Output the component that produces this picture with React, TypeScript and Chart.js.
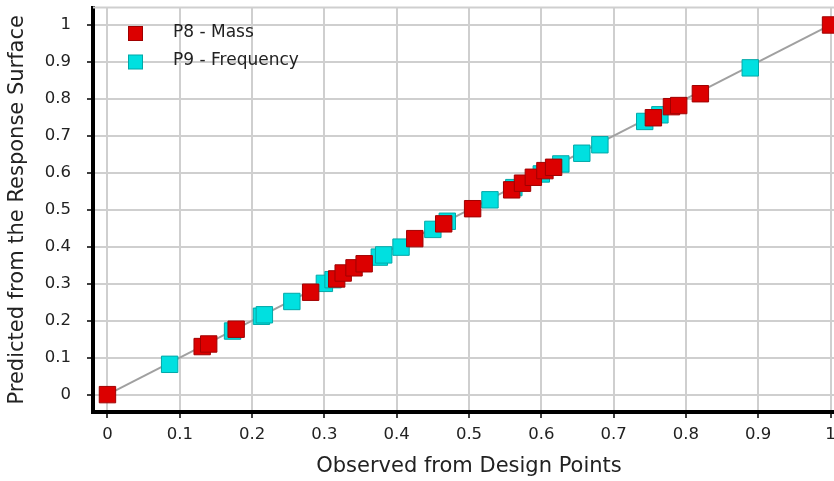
import React, { useEffect, useRef } from 'react';
import { Chart, registerables } from 'chart.js';

Chart.register(...registerables);

const seriesNames = ['P8 - Mass', 'P9 - Frequency'];
const xTitle = 'Observed from Design Points';
const yTitle = 'Predicted from the Response Surface';

const massX = [0, 0.131, 0.14, 0.178, 0.281, 0.317, 0.326, 0.341, 0.355, 0.425, 0.465, 0.505, 0.559, 0.574, 0.589, 0.605, 0.617, 0.755, 0.78, 0.79, 0.82, 1];
const massY = [0, 0.13, 0.137, 0.177, 0.277, 0.313, 0.329, 0.343, 0.354, 0.422, 0.462, 0.503, 0.554, 0.572, 0.588, 0.606, 0.615, 0.749, 0.779, 0.782, 0.814, 1];

const freqX = [0.086, 0.173, 0.213, 0.217, 0.255, 0.3, 0.312, 0.376, 0.382, 0.406, 0.45, 0.47, 0.529, 0.562, 0.6, 0.627, 0.656, 0.681, 0.743, 0.764, 0.889];
const freqY = [0.082, 0.172, 0.212, 0.216, 0.252, 0.301, 0.311, 0.372, 0.378, 0.399, 0.447, 0.469, 0.527, 0.56, 0.597, 0.624, 0.653, 0.676, 0.739, 0.757, 0.884];

const lineX = [0, 1];
const lineY = [0, 1];

const tickValues = [0, 0.1, 0.2, 0.3, 0.4, 0.5, 0.6, 0.7, 0.8, 0.9, 1];
const tickLabels = ['0', '0.1', '0.2', '0.3', '0.4', '0.5', '0.6', '0.7', '0.8', '0.9', '1'];

const FAMILY = '"DejaVu Sans", sans-serif';
const RED = '#dc0000';
const RED_BORDER = '#a00000';
const CYAN = '#00e0e0';
const CYAN_BORDER = '#00a8a8';
const SHIFT = 5;

export default function App() {
  const ref = useRef<HTMLCanvasElement>(null);

  useEffect(() => {
    const decor = {
      id: 'decor',
      beforeDraw(chart: any) {
        const { ctx, width, height } = chart;
        ctx.save();
        ctx.fillStyle = '#ffffff';
        ctx.fillRect(0, 0, width, height);
        ctx.restore();
      },
      beforeDatasetsDraw(chart: any) {
        const { ctx, chartArea } = chart;
        ctx.save();
        ctx.strokeStyle = '#cfcfcf';
        ctx.lineWidth = 2;
        ctx.beginPath();
        ctx.moveTo(chartArea.left, chartArea.top);
        ctx.lineTo(chartArea.right, chartArea.top);
        ctx.lineTo(chartArea.right, chartArea.bottom);
        ctx.stroke();
        ctx.restore();
      },
      afterDraw(chart: any) {
        const { ctx } = chart;
        const items = [
          { text: seriesNames[0], fill: RED, stroke: RED_BORDER, y: 33.5 + SHIFT },
          { text: seriesNames[1], fill: CYAN, stroke: CYAN_BORDER, y: 62 + SHIFT },
        ];
        ctx.save();
        ctx.font = `17px ${FAMILY}`;
        ctx.textBaseline = 'middle';
        ctx.textAlign = 'left';
        for (const it of items) {
          ctx.fillStyle = it.fill;
          ctx.strokeStyle = it.stroke;
          ctx.lineWidth = 1;
          ctx.fillRect(128.5, it.y - 7, 14, 14);
          ctx.strokeRect(128.5, it.y - 7, 14, 14);
          ctx.fillStyle = '#222';
          ctx.fillText(it.text, 173, it.y - 1);
        }
        ctx.restore();
      },
    };

    const axisCommon = (padding: number) => ({
      type: 'linear' as const,
      afterBuildTicks: (s: any) => {
        s.ticks = tickValues.map((v) => ({ value: v }));
      },
      ticks: {
        callback: (_v: any, i: number) => tickLabels[i],
        font: { family: FAMILY, size: 16.5 },
        color: '#222',
        padding,
        maxRotation: 0,
        autoSkip: false,
      },
      grid: {
        color: '#cfcfcf',
        lineWidth: 2,
        tickColor: '#000',
        tickLength: 6,
        tickWidth: 1.5,
      },
      border: { color: '#000', width: 4 },
    });

    const chart = new Chart(ref.current!, {
      type: 'scatter',
      data: {
        datasets: [
          {
            label: seriesNames[0],
            data: massX.map((x, i) => ({ x, y: massY[i] })),
            pointStyle: 'rect',
            pointRadius: 11.6,
            backgroundColor: RED,
            borderColor: RED_BORDER,
            borderWidth: 1,
          },
          {
            label: seriesNames[1],
            data: freqX.map((x, i) => ({ x, y: freqY[i] })),
            pointStyle: 'rect',
            pointRadius: 11.6,
            backgroundColor: CYAN,
            borderColor: CYAN_BORDER,
            borderWidth: 1,
          },
          {
            label: 'fit',
            data: lineX.map((x, i) => ({ x, y: lineY[i] })),
            showLine: true,
            pointRadius: 0,
            borderColor: '#a0a0a0',
            borderWidth: 2,
            fill: false,
          } as any,
        ],
      },
      options: {
        animation: false,
        responsive: false,
        devicePixelRatio: 1,
        layout: { padding: { top: 12, right: 15, left: 0, bottom: 0 } },
        plugins: { legend: { display: false }, tooltip: { enabled: false } },
        scales: {
          x: {
            ...axisCommon(7),
            min: -0.02,
            max: 1.02,
            afterFit: (s: any) => {
              s.height = 69;
              s.paddingLeft = 0;
              s.paddingRight = 0;
            },
            title: {
              display: true,
              text: xTitle,
              font: { family: FAMILY, size: 21 },
              color: '#222',
              padding: { top: 0, bottom: 2 },
            },
          } as any,
          y: {
            ...axisCommon(16),
            min: -0.047,
            max: 1.047,
            afterFit: (s: any) => {
              s.width = 93;
              s.paddingTop = 0;
              s.paddingBottom = 0;
            },
            title: {
              display: true,
              text: yTitle,
              font: { family: FAMILY, size: 21 },
              color: '#222',
              padding: { top: 5, bottom: 0 },
            },
          } as any,
        },
      },
      plugins: [decor],
    });
    return () => chart.destroy();
  }, []);

  return (
    <div style={{ position: 'fixed', left: 0, top: 0, width: 834, height: 481, overflow: 'hidden', background: '#fff' }}>
      <canvas
        ref={ref}
        width={860}
        height={486}
        style={{ width: 860, height: 486, display: 'block', marginTop: -SHIFT }}
      />
    </div>
  );
}
